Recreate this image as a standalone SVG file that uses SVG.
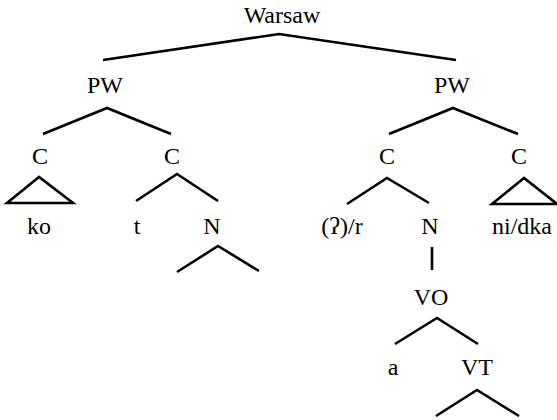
<svg xmlns="http://www.w3.org/2000/svg" width="557" height="420" viewBox="0 0 557 420">
<style>
text{font-family:"Liberation Serif","Times New Roman",serif;font-size:24px;fill:#000;text-anchor:middle}
.e{fill:none;stroke:#000;stroke-width:2.6;stroke-linejoin:miter}
</style>
<rect width="557" height="420" fill="#fff"/>
<g id="n-warsaw"><text x="282" y="23">Warsaw</text></g>
<g id="n-pw1"><text x="105" y="93">PW</text></g>
<g id="n-pw2"><text x="452" y="93">PW</text></g>
<g id="n-c1"><text x="40" y="164">C</text><polygon class="e" points="39,177 7,203 73,203"/></g>
<g id="n-c2"><text x="172" y="164">C</text></g>
<g id="n-c3"><text x="387" y="164">C</text></g>
<g id="n-c4"><text x="519" y="164">C</text><polygon class="e" points="524,178 492,204 557,204"/></g>
<g id="n-ko"><text x="39" y="234">ko</text></g>
<g id="n-t"><text x="137" y="234">t</text></g>
<g id="n-n1"><text x="212" y="234">N</text></g>
<g id="n-r"><text x="342" y="234">(ʔ)/r</text></g>
<g id="n-n2"><text x="430" y="234">N</text></g>
<g id="n-nidka"><text x="522" y="234">ni/dka</text></g>
<g id="n-vo"><text x="431" y="305">VO</text></g>
<g id="n-a"><text x="393" y="375">a</text></g>
<g id="n-vt"><text x="477" y="375">VT</text></g>
<g id="connectors">
<polyline class="e" points="103,60 279,34 456,60"/>
<polyline class="e" points="43,134 107,108 171,134"/>
<polyline class="e" points="389,134 453,108 518,134"/>
<polyline class="e" points="136,201 177,174 218,201"/>
<polyline class="e" points="347,204 387,178 429,203"/>
<polyline class="e" points="177,272 218,246 259,271"/>
<line class="e" x1="432" y1="247" x2="432" y2="270"/>
<polyline class="e" points="395,344 437,318 478,344"/>
<polyline class="e" points="436,416 477,390 519,416"/>
</g>
</svg>
